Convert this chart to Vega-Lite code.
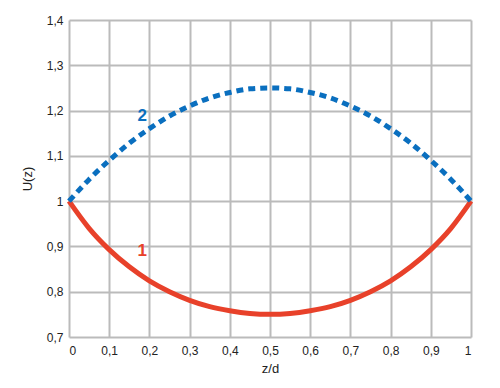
{
  "$schema": "https://vega.github.io/schema/vega-lite/v6.json",
  "width": 402,
  "height": 317,
  "autosize": "none",
  "padding": {"left": 69, "top": 20, "right": 29, "bottom": 51},
  "background": "white",
  "config": {
    "view": {"stroke": null},
    "font": "Liberation Sans",
    "axis": {
      "gridColor": "#bbbbbb",
      "gridWidth": 2,
      "gridOpacity": 1,
      "domain": false,
      "ticks": false,
      "labelFont": "Liberation Sans",
      "labelFontSize": 12,
      "labelColor": "#222222",
      "titleFont": "Liberation Sans",
      "titleFontSize": 13,
      "titleFontWeight": "normal",
      "titleColor": "#222222"
    }
  },
  "datasets": {
    "curves": [
      {"z": 0, "U": 1, "s": "1"},
      {"z": 0.05, "U": 0.940, "s": "1"},
      {"z": 0.1, "U": 0.893, "s": "1"},
      {"z": 0.15, "U": 0.855, "s": "1"},
      {"z": 0.2, "U": 0.824, "s": "1"},
      {"z": 0.25, "U": 0.800, "s": "1"},
      {"z": 0.3, "U": 0.781, "s": "1"},
      {"z": 0.35, "U": 0.767, "s": "1"},
      {"z": 0.4, "U": 0.758, "s": "1"},
      {"z": 0.45, "U": 0.752, "s": "1"},
      {"z": 0.5, "U": 0.750, "s": "1"},
      {"z": 0.55, "U": 0.752, "s": "1"},
      {"z": 0.6, "U": 0.758, "s": "1"},
      {"z": 0.65, "U": 0.767, "s": "1"},
      {"z": 0.7, "U": 0.781, "s": "1"},
      {"z": 0.75, "U": 0.800, "s": "1"},
      {"z": 0.8, "U": 0.824, "s": "1"},
      {"z": 0.85, "U": 0.855, "s": "1"},
      {"z": 0.9, "U": 0.893, "s": "1"},
      {"z": 0.95, "U": 0.940, "s": "1"},
      {"z": 1, "U": 1, "s": "1"},
      {"z": 0, "U": 1, "s": "2"},
      {"z": 0.05, "U": 1.048, "s": "2"},
      {"z": 0.1, "U": 1.090, "s": "2"},
      {"z": 0.15, "U": 1.128, "s": "2"},
      {"z": 0.2, "U": 1.160, "s": "2"},
      {"z": 0.25, "U": 1.188, "s": "2"},
      {"z": 0.3, "U": 1.210, "s": "2"},
      {"z": 0.35, "U": 1.228, "s": "2"},
      {"z": 0.4, "U": 1.240, "s": "2"},
      {"z": 0.45, "U": 1.248, "s": "2"},
      {"z": 0.5, "U": 1.250, "s": "2"},
      {"z": 0.55, "U": 1.248, "s": "2"},
      {"z": 0.6, "U": 1.240, "s": "2"},
      {"z": 0.65, "U": 1.228, "s": "2"},
      {"z": 0.7, "U": 1.210, "s": "2"},
      {"z": 0.75, "U": 1.188, "s": "2"},
      {"z": 0.8, "U": 1.160, "s": "2"},
      {"z": 0.85, "U": 1.128, "s": "2"},
      {"z": 0.9, "U": 1.090, "s": "2"},
      {"z": 0.95, "U": 1.048, "s": "2"},
      {"z": 1, "U": 1, "s": "2"}
    ],
    "labels": [
      {"z": 0.182, "U": 0.891, "s": "1"},
      {"z": 0.182, "U": 1.187, "s": "2"}
    ]
  },
  "encoding": {
    "x": {
      "field": "z", "type": "quantitative",
      "scale": {"domain": [0, 1], "nice": false},
      "axis": {"values": [0, 0.1, 0.2, 0.3, 0.4, 0.5, 0.6, 0.7, 0.8, 0.9, 1], "labelExpr": "replace(format(datum.value, '~g'), '.', ',')", "title": "z/d", "labelPadding": 8, "titlePadding": 6}
    },
    "y": {
      "field": "U", "type": "quantitative",
      "scale": {"domain": [0.7, 1.4], "nice": false, "zero": false},
      "axis": {"values": [0.7, 0.8, 0.9, 1, 1.1, 1.2, 1.3, 1.4], "labelExpr": "replace(format(datum.value, '~g'), '.', ',')", "title": "U(z)", "labelPadding": 6, "titlePadding": 12}
    }
  },
  "layer": [
    {
      "data": {"name": "curves"},
      "transform": [{"filter": "datum.s == '1'"}],
      "mark": {"type": "line", "color": "#e8412a", "strokeWidth": 5, "interpolate": "monotone", "strokeCap": "butt"}
    },
    {
      "data": {"name": "curves"},
      "transform": [{"filter": "datum.s == '2'"}],
      "mark": {"type": "line", "color": "#0a6fbf", "strokeWidth": 5, "interpolate": "monotone", "strokeDash": [7, 5], "strokeCap": "butt"}
    },
    {
      "data": {"name": "labels"},
      "mark": {"type": "text", "fontSize": 17, "font": "Liberation Sans", "fontWeight": "bold"},
      "encoding": {
        "text": {"field": "s"},
        "color": {"field": "s", "type": "nominal", "scale": {"domain": ["1", "2"], "range": ["#e8412a", "#0a6fbf"]}, "legend": null}
      }
    }
  ]
}
